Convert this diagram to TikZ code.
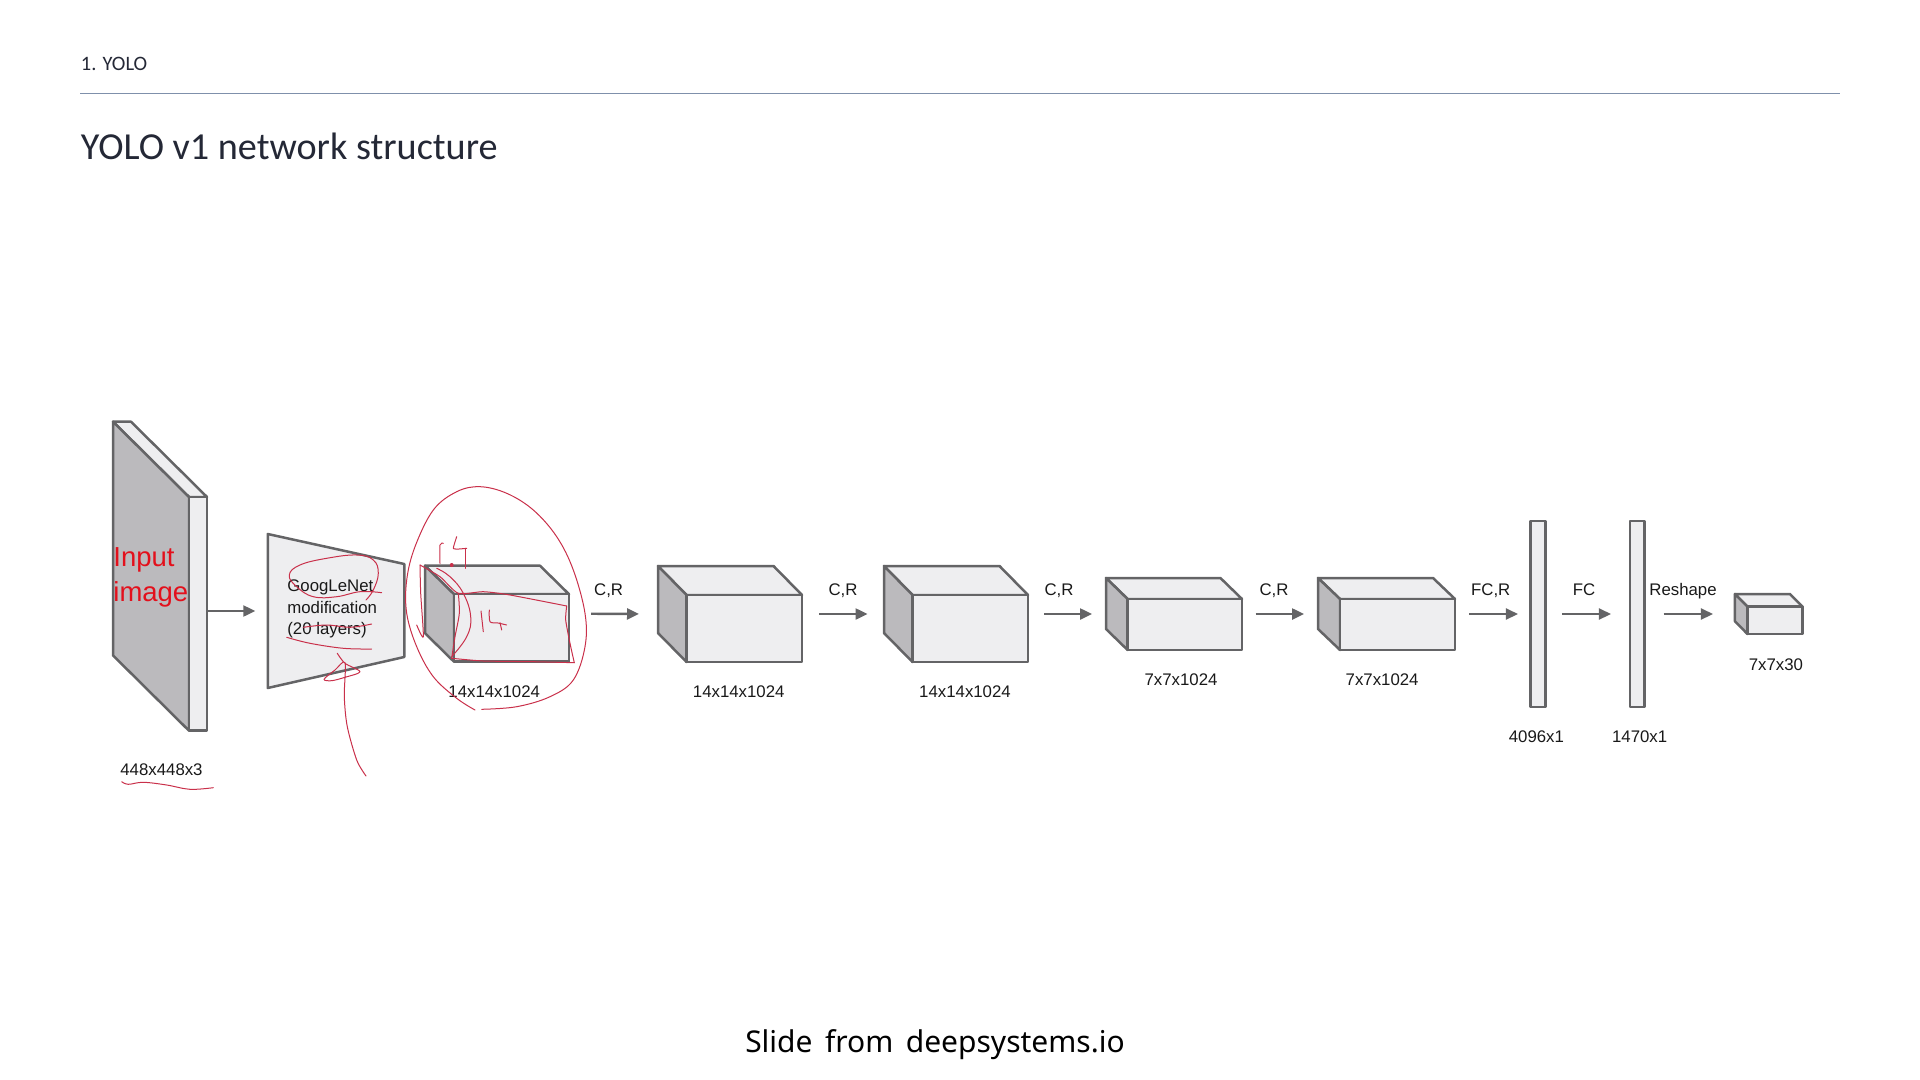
\documentclass[tikz,border=0pt]{standalone}
\usepackage{fontspec}
\usetikzlibrary{positioning,calc,arrows.meta}
\newfontfamily\slidefont{Carlito}
\newfontfamily\diagfont{Liberation Sans}
\newfontfamily\footfont[WordSpace=1.6]{Noto Sans}
\definecolor{edgegray}{HTML}{646466}
\definecolor{facegray}{HTML}{EEEEF0}
\definecolor{sidegray}{HTML}{BBBABD}
\definecolor{inkred}{HTML}{C9304A}
\definecolor{inputred}{HTML}{E3101C}
\definecolor{titleink}{HTML}{242836}
\definecolor{ruleblue}{HTML}{7F90AB}
\newcommand{\cuboidfaces}[3]{
	\draw[facebox] (#1.north west) -- ($(#1.north east)-(#2,0)$) -- ($(#1.north east)+(0,#3)$) -- ($(#1.north west)+(#2,#3)$) -- cycle;
	\draw[sidebox] (#1.north west) -- ($(#1.north west)+(#2,#3)$) -- ($(#1.south west)+(#2,0)$) -- ($(#1.south west)-(0,#3)$) -- cycle;
	\draw[facebox] ($(#1.north west)+(#2,#3)$) rectangle (#1.south east);
}
\begin{document}
\begin{tikzpicture}[
	x=0.5pt, y=-0.5pt,
	facebox/.style={fill=facegray, draw=edgegray, line width=1.25pt, line join=round},
	sidebox/.style={fill=sidegray, draw=edgegray, line width=1.25pt, line join=round},
	cuboid/.style 2 args={inner sep=0, outer sep=0, minimum width=#1*0.5pt, minimum height=#2*0.5pt},
	barnode/.style={facebox, inner sep=0, outer sep=0, minimum width=7.35pt, minimum height=93pt},
	dimlabel/.style={font=\diagfont\fontsize{8.4}{10}\selectfont, text=black!90, inner sep=0},
	oplabel/.style={font=\diagfont\fontsize{8.4}{10}\selectfont, text=black!90, inner sep=0, anchor=base},
	flow/.style 2 args={draw=edgegray, line width=1.2pt, shorten <=#1, shorten >=#2, -{Triangle[length=6pt,width=5.5pt]}},
	ink/.style={draw=inkred, line width=0.5pt, line cap=round, line join=round}
	]
	\useasboundingbox (0,0) rectangle (1920,1080);
	% slide header
	\node[font=\slidefont\fontsize{10.25}{12}\selectfont, text=titleink, anchor=west, inner sep=0] (section) at (80.5,64) {1. YOLO};
	\coordinate (ruleleft) at (80,93.5);
	\coordinate (ruleright) at (1840,93.5);
	\draw[ruleblue, line width=0.45pt] (ruleleft) -- (ruleright);
	\node[font=\slidefont\fontsize{19.1}{22}\selectfont, text=titleink, anchor=west, inner sep=0] (title) at (80.5,146) {YOLO v1 network structure};
	\node[font=\footfont\fontsize{15}{17}\selectfont, text=black, inner sep=0] (credit) at (935,1044.5) {Slide from deepsystems.io};
	% layers
	\node[cuboid={94}{309}] (plate) at (160,576.2) {};
	\node[cuboid={136.5}{154}] (gnet) at (336,611) {};
	\node[cuboid={144}{96}] (box1) at (497,613.7) {};
	\node[cuboid={144}{96}] (box2) at (730,614) {};
	\node[cuboid={144}{96}] (box3) at (956,614) {};
	\node[cuboid={136}{72}] (box4) at (1174,614) {};
	\node[cuboid={137}{72}] (box5) at (1386.5,614) {};
	\node[cuboid={67.5}{40}] (box6) at (1768.7,614) {};
	\cuboidfaces{plate}{76}{75.3}
	\draw[facebox] (gnet.north west) -- ($(gnet.north east)+(0,30)$) -- ($(gnet.south east)-(0,31)$) -- (gnet.south west) -- cycle;
	\cuboidfaces{box1}{29}{28.5}
	\cuboidfaces{box2}{28.5}{29}
	\cuboidfaces{box3}{28.5}{29}
	\cuboidfaces{box4}{21.6}{21}
	\cuboidfaces{box5}{22}{21}
	\cuboidfaces{box6}{12.5}{12.7}
	\node[barnode] (bar1) at (1538,614) {};
	\node[barnode] (bar2) at (1637.3,614) {};
	\node[font=\diagfont\fontsize{13.75}{17.5}\selectfont, text=inputred, align=left, anchor=west, inner sep=0] (inputtxt) at (113,577) {Input\\image};
	\node[dimlabel, align=left, anchor=west, font=\diagfont\fontsize{8.4}{10.75}\selectfont] (gnettxt) at (287,609) {GoogLeNet\\modification\\(20 layers)};
	% sizes
	\node[dimlabel] (size0) [below=16.15pt of plate, xshift=0.75pt] {448x448x3};
	\node[dimlabel] (size1) [below=11.9pt of box1, xshift=-1.4pt] {14x14x1024};
	\node[dimlabel] (size2) [below=11.85pt of box2, xshift=4.35pt] {14x14x1024};
	\node[dimlabel] (size3) [below=11.85pt of box3, xshift=4.5pt] {14x14x1024};
	\node[dimlabel] (size4) [below=11.7pt of box4, xshift=3.5pt] {7x7x1024};
	\node[dimlabel] (size5) [below=11.7pt of box5, xshift=-2.2pt] {7x7x1024};
	\node[dimlabel] (size6) [below=11.85pt of bar1, xshift=-0.8pt] {4096x1};
	\node[dimlabel] (size7) [below=11.85pt of bar2, xshift=1.15pt] {1470x1};
	\node[dimlabel] (size8) [below=12pt of box6, xshift=3.6pt] {7x7x30};
	% operations
	\node[oplabel] (op1) at (608.6,595.5) {C,R};
	\node[oplabel] (op2) at (843,595.5) {C,R};
	\node[oplabel] (op3) at (1059,595.5) {C,R};
	\node[oplabel] (op4) at (1274,595.5) {C,R};
	\node[oplabel] (op5) at (1490.7,595.5) {FC,R};
	\node[oplabel] (op6) at (1584,595.5) {FC};
	\node[oplabel] (op7) at (1683,595.5) {Reshape};
	\draw[flow={0pt}{6.25pt}] (plate.east |- gnet.west) -- (gnet.west);
	\draw[flow={11pt}{9.5pt}] (box1.east) -- (box2.west);
	\draw[flow={8.5pt}{8.25pt}] (box2.east) -- (box3.west);
	\draw[flow={8pt}{7pt}] (box3.east) -- (box4.west);
	\draw[flow={6.75pt}{7pt}] (box4.east) -- (box5.west);
	\draw[flow={7pt}{6.35pt}] (box5.east) -- (bar1.west);
	\draw[flow={8.3pt}{9.5pt}] (bar1.east) -- (bar2.west);
	\draw[flow={9.5pt}{11pt}] (bar2.east) -- (box6.west);
	% pen marks
	\draw[ink] plot[smooth, tension=0.6] coordinates {(475,710) (456.7,698.3) (433.3,676.7) (416.7,646.7) (406.7,613.3) (406.7,580) (415,546.7) (433.3,510) (456.7,491.7) (480,486.7) (506.7,493.3) (533.3,510) (556.7,536.7) (573.3,570) (585,613.3) (585,646.7) (573.3,680) (550,696.7) (516.7,706.7) (481.7,709.3)};
	\draw[ink] plot[smooth, tension=0.4] coordinates {(420,565) (440,576.7) (458.3,593.3) (483.3,591.7) (510,595) (566.7,606)};
	\draw[ink] plot[smooth, tension=0.4] coordinates {(566.7,606) (565.7,620) (570,643.3) (574.3,662.7)};
	\draw[ink] plot[smooth, tension=0.3] coordinates {(574.3,662.7) (533.3,661.7) (483.3,661) (451.7,658.3)};
	\draw[ink] plot[smooth, tension=0.5] coordinates {(451.7,658.3) (455,636.7) (459.3,613.3) (458.3,593.3)};
	\draw[ink] plot[smooth, tension=0.4] coordinates {(420,565) (420.7,593.3) (423.3,636.7) (416.7,625)};
	\draw[ink] plot[smooth, tension=0.7] coordinates {(436.7,568.3) (450,576.7) (463.3,593.3) (470.7,616.7) (466.7,636.7) (451.7,656.7)};
	\draw[ink] plot[smooth, tension=0.5] coordinates {(443.3,543.3) (440,545) (440,563.3)};
	\draw[ink] plot[smooth, tension=0.3] coordinates {(456.7,536.7) (453.3,548.3) (459,549) (466.7,548.3)};
	\draw[ink] (465.7,548.3) -- (465.7,568.3);
	\draw[ink] (481,611) -- (483.3,631.7);
	\draw[ink] plot[smooth, tension=0.5] coordinates {(489.3,610) (490,621.7) (498,623) (506.7,625)};
	\draw[ink] (500,622.7) -- (501.7,630);
	\fill[inkred] (451.7,565) circle (1pt);
	\draw[ink] plot[smooth, tension=0.7] coordinates {(381.7,592.7) (360,591.7) (336.7,596.7) (313.3,596.7) (296.7,586.7) (289.3,575) (300,565) (326.7,558.3) (356.7,555) (373.3,560) (378.3,573.3) (373.3,590) (366,600)};
	\draw[ink] plot[smooth, tension=0.6] coordinates {(303.3,627.3) (326.7,625) (350,627.3) (371.7,624)};
	\draw[ink] plot[smooth, tension=0.6] coordinates {(286.7,637.3) (310,643.3) (343.3,648.3) (371.7,649)};
	\draw[ink] plot[smooth, tension=0.5] coordinates {(337.3,653.3) (345,663.3) (360,671.7) (345,677.3) (331.7,680.7) (324,679.3) (335,670) (345,662.7) (344.3,696.7) (347.3,726.7) (356.7,760) (366,776)};
	\draw[ink] plot[smooth, tension=0.6] coordinates {(121.7,781.7) (128.3,784.3) (143.3,782.3) (166.7,785) (190,789.3) (213.3,787.7)};
\end{tikzpicture}
\end{document}
